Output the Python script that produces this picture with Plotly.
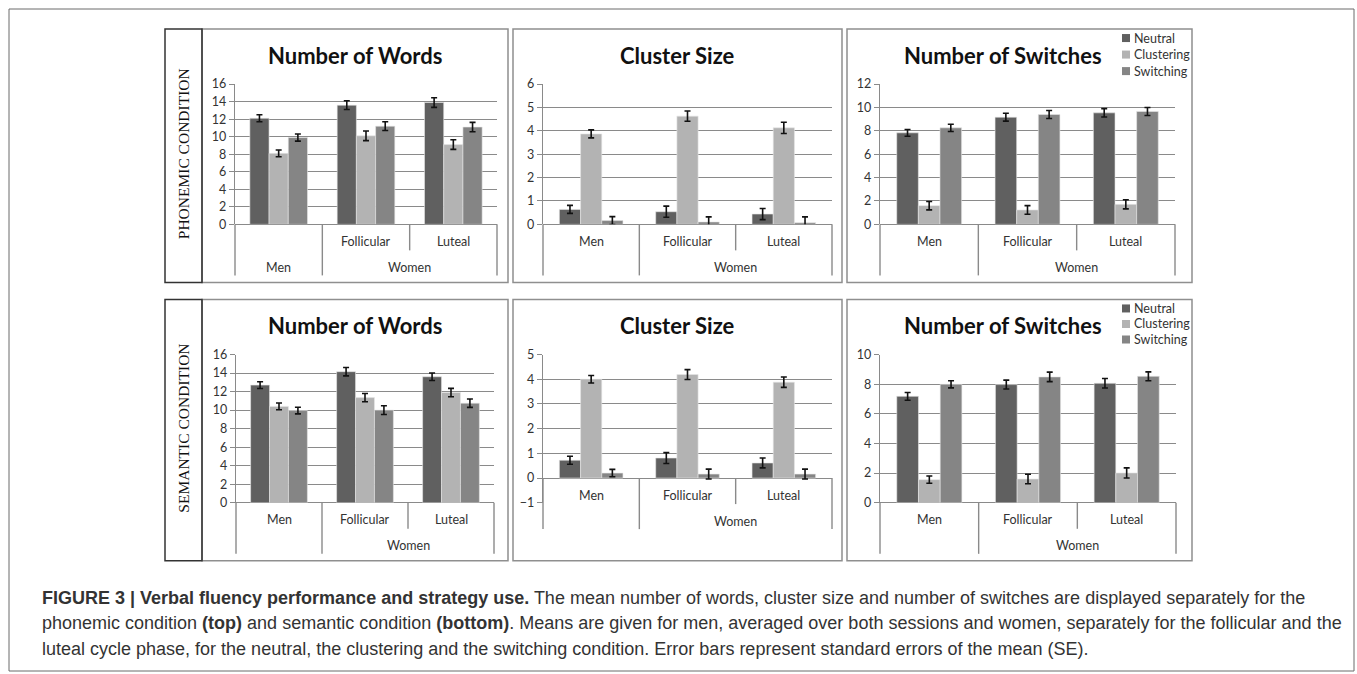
import plotly.graph_objects as go

W, H = 1357, 674

# ---------------- data ----------------
categories = ["Men", "Follicular", "Luteal"]
series_names = ["Neutral", "Clustering", "Switching"]
series_colors = ["#606060", "#b3b3b3", "#858585"]

# Phonemic condition (top row)  -- rows: Neutral, Clustering, Switching
phon_words_mean = [[12.1, 13.6, 13.9], [8.1, 10.1, 9.1], [9.9, 11.2, 11.1]]
phon_words_se = [[0.4, 0.5, 0.55], [0.38, 0.55, 0.55], [0.4, 0.5, 0.53]]
phon_cluster_mean = [[0.64, 0.54, 0.44], [3.87, 4.63, 4.13], [0.16, 0.10, 0.07]]
phon_cluster_se = [[0.17, 0.24, 0.24], [0.17, 0.22, 0.24], [0.17, 0.22, 0.25]]
phon_switch_mean = [[7.83, 9.17, 9.54], [1.60, 1.23, 1.71], [8.26, 9.40, 9.66]]
phon_switch_se = [[0.29, 0.34, 0.36], [0.36, 0.37, 0.39], [0.31, 0.34, 0.34]]

# Semantic condition (bottom row)
sem_words_mean = [[12.7, 14.15, 13.6], [10.4, 11.35, 11.9], [9.95, 10.0, 10.75]]
sem_words_se = [[0.36, 0.45, 0.4], [0.36, 0.45, 0.45], [0.36, 0.47, 0.45]]
sem_cluster_mean = [[0.72, 0.81, 0.61], [4.0, 4.19, 3.88], [0.2, 0.16, 0.16]]
sem_cluster_se = [[0.16, 0.22, 0.2], [0.15, 0.2, 0.21], [0.15, 0.2, 0.2]]
sem_switch_mean = [[7.18, 7.97, 8.06], [1.56, 1.60, 2.01], [7.99, 8.49, 8.53]]
sem_switch_se = [[0.26, 0.3, 0.32], [0.24, 0.32, 0.34], [0.24, 0.32, 0.3]]

panel_titles = ["Number of Words", "Cluster Size", "Number of Switches"]
row_labels = ["PHONEMIC CONDITION", "SEMANTIC CONDITION"]
group_label = "Women"

caption_lines = [
    "<b>FIGURE 3 | Verbal fluency performance and strategy use.</b> The mean number of words, cluster size and number of switches are displayed separately for the",
    "phonemic condition <b>(top)</b> and semantic condition <b>(bottom)</b>. Means are given for men, averaged over both sessions and women, separately for the follicular and the",
    "luteal cycle phase, for the neutral, the clustering and the switching condition. Error bars represent standard errors of the mean (SE).",
]

# ---------------- layout geometry (pixels) ----------------
# the rendered canvas shows paper space over ~658 px starting 8 px down
Y_OFF, Y_SPAN = 8, 658


def fx(px):
    return px / W


def fy(py):
    return 1 - (py - Y_OFF) / Y_SPAN


GRID = "#8a8a8a"
TXT = "#333333"
FONT = "Lato"

panels = [
    dict(mean=phon_words_mean, se=phon_words_se, rng=[0, 16], dtick=2, px=(235, 497), py=(84, 224),
         box=(202, 508), boxy=(29, 282), title=panel_titles[0], men_row2=True, legend=False),
    dict(mean=phon_cluster_mean, se=phon_cluster_se, rng=[0, 6], dtick=1, px=(543, 832), py=(84, 224),
         box=(513, 842), boxy=(29, 282), title=panel_titles[1], men_row2=False, legend=False),
    dict(mean=phon_switch_mean, se=phon_switch_se, rng=[0, 12], dtick=2, px=(880, 1175), py=(84, 224),
         box=(847, 1192), boxy=(29, 282), title=panel_titles[2], men_row2=False, legend=True),
    dict(mean=sem_words_mean, se=sem_words_se, rng=[0, 16], dtick=2, px=(236, 494), py=(354, 502),
         box=(202, 508), boxy=(299, 560), title=panel_titles[0], men_row2=False, legend=False),
    dict(mean=sem_cluster_mean, se=sem_cluster_se, rng=[-1, 5], dtick=1, px=(543, 832), py=(354, 502),
         box=(513, 842), boxy=(299, 560), title=panel_titles[1], men_row2=False, legend=False),
    dict(mean=sem_switch_mean, se=sem_switch_se, rng=[0, 10], dtick=2, px=(880, 1176), py=(354, 502),
         box=(847, 1192), boxy=(299, 560), title=panel_titles[2], men_row2=False, legend=True),
]

fig = go.Figure()
shapes = []
annotations = []
layout_axes = {}

for i, p in enumerate(panels):
    n = i + 1
    xa = "x" if n == 1 else f"x{n}"
    ya = "y" if n == 1 else f"y{n}"
    xname = "xaxis" if n == 1 else f"xaxis{n}"
    yname = "yaxis" if n == 1 else f"yaxis{n}"
    for s in range(3):
        fig.add_trace(go.Bar(
            x=[0, 1, 2], y=p["mean"][s], name=series_names[s],
            marker=dict(color=series_colors[s], line=dict(width=0.6, color="#e6e6e6")),
            error_y=dict(type="data", array=p["se"][s], visible=True, color="#111111",
                         thickness=1.6, width=3),
            xaxis=xa, yaxis=ya, offsetgroup=str(s), showlegend=False,
        ))
    layout_axes[xname] = dict(domain=[fx(p["px"][0]), fx(p["px"][1])], range=[-0.5, 2.5],
                              showticklabels=False, showgrid=False, zeroline=False,
                              showline=False, ticks="", anchor=ya, fixedrange=True)
    layout_axes[yname] = dict(domain=[fy(p["py"][1]), fy(p["py"][0])], range=p["rng"],
                              dtick=p["dtick"], tick0=0, showgrid=True, gridcolor=GRID, gridwidth=1.4,
                              zeroline=True, zerolinecolor=GRID, zerolinewidth=1.4,
                              showline=True, linecolor=GRID, linewidth=1.4,
                              ticks="outside", ticklen=5, tickcolor=GRID, tickwidth=1.3,
                              tickfont=dict(family=FONT, size=12.5, color=TXT),
                              anchor=xa, fixedrange=True)

    # panel box
    shapes.append(dict(type="rect", xref="paper", yref="paper",
                       x0=fx(p["box"][0]), x1=fx(p["box"][1]), y0=fy(p["boxy"][1]), y1=fy(p["boxy"][0]),
                       line=dict(color="#8f8f8f", width=1.5)))

    # category table below the zero line
    ymin, ymax = p["rng"]
    zero_py = p["py"][0] + (ymax - 0) / (ymax - ymin) * (p["py"][1] - p["py"][0])
    r1 = zero_py + 26
    r2 = zero_py + 51
    xd = f"{xa} domain"
    for fr, bottom in [(0, r2), (1 / 3, r2), (2 / 3, r1), (1, r2)]:
        shapes.append(dict(type="line", xref=xd, yref="paper", x0=fr, x1=fr,
                           y0=fy(zero_py), y1=fy(bottom), line=dict(color=GRID, width=1.4)))
    lab_font = dict(family=FONT, size=12.5, color=TXT)
    for k, cat in enumerate(categories):
        yy = r1 - 9
        if k == 0 and p["men_row2"]:
            yy = r2 - 8
        annotations.append(dict(text=cat, xref=xd, yref="paper", x=(k + 0.5) / 3, y=fy(yy),
                                showarrow=False, font=lab_font, xanchor="center", yanchor="middle"))
    annotations.append(dict(text=group_label, xref=xd, yref="paper", x=2 / 3, y=fy(r2 - 8),
                            showarrow=False, font=lab_font, xanchor="center", yanchor="middle"))

    # title
    title_y = p["boxy"][0] + 26
    tfont = dict(family=FONT, size=22, color="#111111")
    if p["legend"]:
        annotations.append(dict(text=f"<b>{p['title']}</b>", xref="paper", yref="paper",
                                x=fx(1104), y=fy(title_y), showarrow=False, font=tfont,
                                xanchor="right", yanchor="middle"))
        leg_top = p["boxy"][0] + 9
        step = 16.5 if i == 2 else 15.5
        for s in range(3):
            cy = leg_top + s * step
            shapes.append(dict(type="rect", xref="paper", yref="paper",
                               x0=fx(1122), x1=fx(1130), y0=fy(cy + 4), y1=fy(cy - 4),
                               fillcolor=series_colors[s], line=dict(width=0)))
            annotations.append(dict(text=series_names[s], xref="paper", yref="paper",
                                    x=fx(1132), y=fy(cy), showarrow=False,
                                    font=dict(family=FONT, size=12.5, color=TXT),
                                    xanchor="left", yanchor="middle"))
    else:
        annotations.append(dict(text=f"<b>{p['title']}</b>", xref="paper", yref="paper",
                                x=fx((p["box"][0] + p["box"][1]) / 2), y=fy(title_y),
                                showarrow=False, font=tfont, xanchor="center", yanchor="middle"))

# row label boxes
for (y0, y1), lab in zip([(29, 282), (299, 560)], row_labels):
    shapes.append(dict(type="rect", xref="paper", yref="paper", x0=fx(165), x1=fx(202),
                       y0=fy(y1), y1=fy(y0), line=dict(color="#333333", width=1.5)))
    annotations.append(dict(text=lab, xref="paper", yref="paper", x=fx(183.5), y=fy((y0 + y1) / 2 - 2),
                            textangle=-90, showarrow=False,
                            font=dict(family="Liberation Serif", size=15.5, color="#111111"),
                            xanchor="center", yanchor="middle"))

# outer frame
shapes.append(dict(type="rect", xref="paper", yref="paper", x0=fx(9), x1=fx(1354),
                   y0=fy(670), y1=fy(9), line=dict(color="#6a6a6a", width=1)))

# caption
for j, line in enumerate(caption_lines):
    annotations.append(dict(text=line, xref="paper", yref="paper", x=fx(40), y=fy(597 + j * 25.5),
                            showarrow=False, xanchor="left", yanchor="middle", align="left",
                            font=dict(family="Liberation Sans", size=18, color="#333333")))

fig.update_layout(
    width=W, height=H, margin=dict(l=0, r=0, t=0, b=0),
    paper_bgcolor="white", plot_bgcolor="white",
    barmode="group", bargap=0.34, bargroupgap=0,
    showlegend=False, shapes=shapes, annotations=annotations,
    **layout_axes,
)

fig.write_html("out.html", config={"displayModeBar": False},
               post_script="document.body.style.margin='0';document.body.style.overflow='hidden';")
